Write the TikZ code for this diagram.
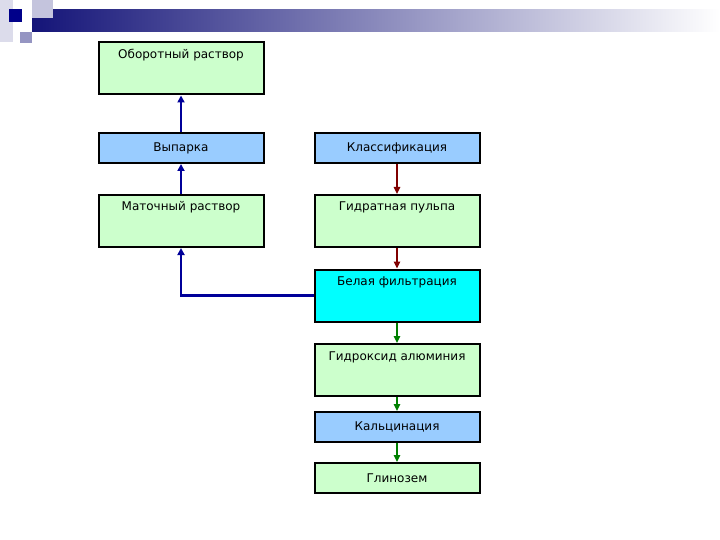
\documentclass[tikz,border=0pt]{standalone}
\usepackage{fontspec}
\setmainfont{DejaVu Sans}
\usetikzlibrary{arrows.meta}

\definecolor{boxgreen}{RGB}{204,255,204}
\definecolor{boxblue}{RGB}{153,204,255}
\definecolor{boxcyan}{RGB}{0,255,255}
\definecolor{navy}{RGB}{0,0,153}
\definecolor{darkred}{RGB}{128,0,0}
\definecolor{darkgreen}{RGB}{0,128,0}
\definecolor{barnavy}{RGB}{20,20,120}

\tikzset{
  box/.style={draw=black, line width=2pt, minimum width=165pt, inner sep=0pt,
    font=\fontsize{12}{14}\selectfont},
  tallbox/.style={box, fill=boxgreen, text height=9pt, text depth=29pt, inner ysep=7pt},
  flatbox/.style={box, minimum height=30pt},
  flowblue/.style={draw=navy, line width=2.4pt, -{Triangle[length=7pt,width=7pt]}},
  flowred/.style={draw=darkred, line width=1.3pt, -{Triangle[length=7pt,width=6.5pt]}},
  flowgreen/.style={draw=darkgreen, line width=1.3pt, -{Triangle[length=7pt,width=6.5pt]}}
}

\begin{document}
\begin{tikzpicture}[x=1pt, y=-1pt, line join=miter]
  \useasboundingbox (0,0) rectangle (720,540);
  % Title bar with corner squares.
  \shade[left color=barnavy, right color=white] (32,10) rectangle (720,32);
  \fill[barnavy!15] (0,0) rectangle (13,42);
  \fill[barnavy!25] (32,0) rectangle (53,18);
  \fill[navy!90!black] (9,9) rectangle (22,22);
  \fill[barnavy!45] (20,32) rectangle (32,43);
  % Left column.
  \node[tallbox] (oborot) at (181,68.5) {Оборотный раствор};
  \node[flatbox, fill=boxblue] (vyparka) at (181,148) {Выпарка};
  \node[tallbox] (matoch) at (181,221) {Маточный раствор};
  % Right column.
  \node[flatbox, fill=boxblue] (klass) at (397,148) {Классификация};
  \node[tallbox] (gidrat) at (397,221) {Гидратная пульпа};
  \node[tallbox, fill=boxcyan] (belaya) at (397,295.5) {Белая фильтрация};
  \node[tallbox] (gidroksid) at (397,370) {Гидроксид алюминия};
  \node[flatbox, fill=boxblue] (kalts) at (397,427) {Кальцинация};
  \node[flatbox, fill=boxgreen] (glinozem) at (397,478) {Глинозем};
  % Return of the mother liquor.
  \draw[flowblue] (vyparka) -- (oborot);
  \draw[flowblue] (matoch) -- (vyparka);
  \draw[flowblue] (belaya.west) -| (matoch.south);
  % Main line.
  \draw[flowred] (klass) -- (gidrat);
  \draw[flowred] (gidrat) -- (belaya);
  \draw[flowgreen] (belaya) -- (gidroksid);
  \draw[flowgreen] (gidroksid) -- (kalts);
  \draw[flowgreen] (kalts) -- (glinozem);
\end{tikzpicture}
\end{document}
